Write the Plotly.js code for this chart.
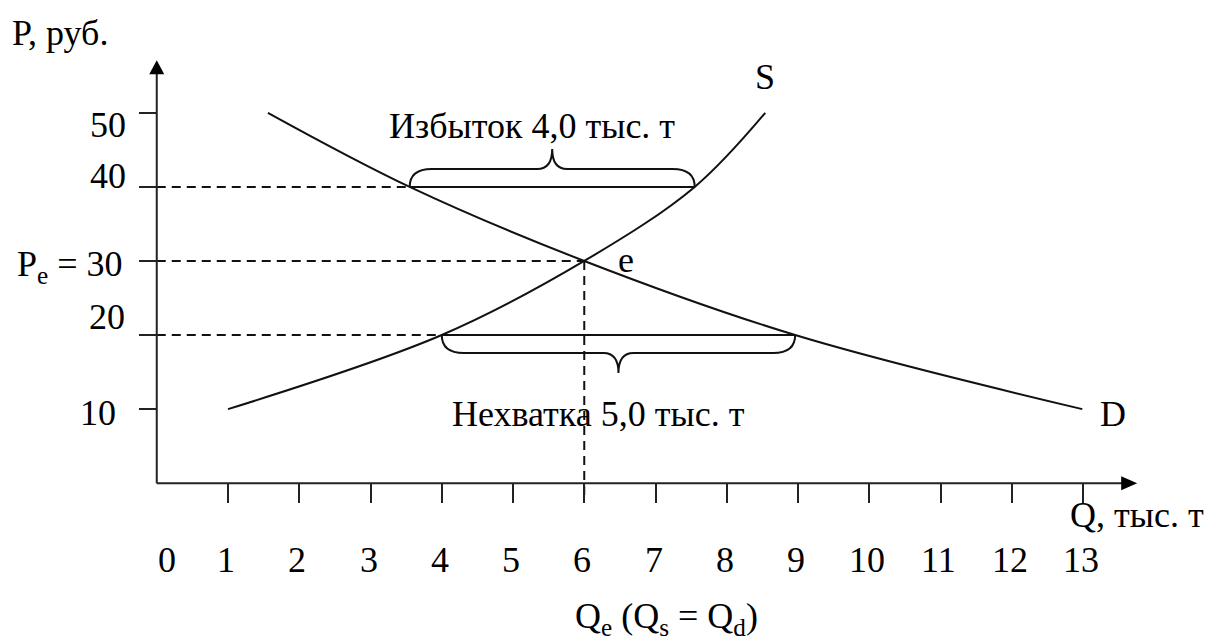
<!DOCTYPE html>
<html>
<head>
<meta charset="utf-8">
<script src="https://cdn.plot.ly/plotly-3.0.1.min.js"></script>
<style>
  html, body { margin: 0; padding: 0; background: #fff; }
  #chart { width: 1209px; height: 644px; }
</style>
</head>
<body>
<div id="chart"></div>
<script>
// values (Q in thousand t, P in rub.)
const supplyQ = [1, 4, 6, 7.55, 8.54];
const supplyP = [10, 20, 30, 40, 50];
const demandQ = [1.56, 3.55, 6, 8.96, 12.99];
const demandP = [50, 40, 30, 20, 10];
const eqQ = 6;
const eqP = 30;
const gapP = [40, 20];          // surplus price, shortage price
const gapStart = [3.55, 4];
const gapEnd = [7.55, 8.96];
const gapText = ['Избыток 4,0 тыс. т', 'Нехватка 5,0 тыс. т'];
const xTickVals = [0, 1, 2, 3, 4, 5, 6, 7, 8, 9, 10, 11, 12, 13];
const xTickText = ['0', '1', '2', '3', '4', '5', '6', '7', '8', '9', '10', '11', '12', '13'];
const yTickVals = [10, 20, 30, 40, 50];
const yTickText = ['10', '20', 'P<sub>e</sub> = 30', '40', '50'];

const W = 1209, H = 644;
const FONT = 'Liberation Serif, Times New Roman, serif';
const INK = '#111';

// axes span the whole page, origin placed where the picture has it
const xRange = [-2.2, 14.768];
const yRange = [-21.71, 65.23];
const pxX = W / (xRange[1] - xRange[0]);
const pxY = H / (yRange[1] - yRange[0]);
const dx = px => px / pxX;
const dy = px => px / pxY;

const xAxisEnd = 13.76;
const yAxisEnd = 57.1;

const traces = [];

function seg(x, y, dash) {
    traces.push({
        x: x, y: y, mode: 'lines', hoverinfo: 'skip',
        line: {color: INK, width: 2, dash: dash || 'solid'}
    });
}

// dashed guides
gapP.forEach((p, i) => seg([0, gapStart[i]], [p, p], '9px,6px'));
seg([0, eqQ], [eqP, eqP], '9px,6px');
seg([eqQ, eqQ], [eqP, -dy(17)], '9px,6px');

// surplus / shortage segments
gapP.forEach((p, i) => seg([gapStart[i], gapEnd[i]], [p, p]));

// supply and demand curves
traces.push({x: supplyQ, y: supplyP, mode: 'lines', hoverinfo: 'skip',
    line: {color: INK, width: 2, shape: 'spline', smoothing: 1}});
traces.push({x: demandQ, y: demandP, mode: 'lines', hoverinfo: 'skip',
    line: {color: INK, width: 2, shape: 'spline', smoothing: 1}});

// curly brace path between xa and xb at price y, dir 1 = up, -1 = down
function brace(xa, xb, y, dir) {
    const h1 = dy(18) * dir, h2 = dy(38) * dir;
    const r = dx(22), rt = dx(15);
    const m = (xa + xb) / 2;
    const f = y + h1;
    return `M${xa},${y} Q${xa},${f} ${xa + r},${f} L${m - rt},${f} Q${m},${f} ${m},${y + h2} ` +
        `Q${m},${f} ${m + rt},${f} L${xb - r},${f} Q${xb},${f} ${xb},${y}`;
}

const shapes = [
    {type: 'line', xref: 'x', yref: 'y', x0: 0, y0: 0, x1: xAxisEnd - dx(12), y1: 0,
        line: {color: '#222', width: 2}},
    {type: 'line', xref: 'x', yref: 'y', x0: 0, y0: 0, x1: 0, y1: yAxisEnd - dy(12),
        line: {color: '#222', width: 2}},
    {type: 'path', xref: 'x', yref: 'y', fillcolor: '#000', line: {width: 0},
        path: `M${xAxisEnd},0 L${xAxisEnd - dx(16)},${dy(7)} L${xAxisEnd - dx(16)},${-dy(7)} Z`},
    {type: 'path', xref: 'x', yref: 'y', fillcolor: '#000', line: {width: 0},
        path: `M0,${yAxisEnd} L${dx(7.5)},${yAxisEnd - dy(14)} L${-dx(7.5)},${yAxisEnd - dy(14)} Z`},
    {type: 'path', xref: 'x', yref: 'y', line: {color: INK, width: 2},
        path: brace(gapStart[0], gapEnd[0], gapP[0], 1)},
    {type: 'path', xref: 'x', yref: 'y', line: {color: INK, width: 2},
        path: brace(gapStart[1], gapEnd[1], gapP[1], -1)}
];

const font = {family: FONT, size: 36, color: '#000'};
const annotations = [];

function label(text, x, y, xs, ys, anchor, ref) {
    annotations.push({
        text: text, x: x, y: y, xref: ref || 'x', yref: ref || 'y',
        xshift: xs, yshift: ys, xanchor: anchor || 'center', yanchor: 'middle',
        showarrow: false, font: font
    });
}

// x tick labels
xTickVals.forEach((v, i) => label(xTickText[i], v, 0, i === 0 ? 10 : -2, -77));
// y tick labels
const yLabShift = [[-39, -4], [-30, 18], [-32, -6], [-29, 11], [-29, -12]];
yTickVals.forEach((v, i) => label(yTickText[i], 0, v, yLabShift[i][0], yLabShift[i][1], 'right'));

// curve names and equilibrium
label('S', supplyQ[supplyQ.length - 1], supplyP[supplyP.length - 1], 0, 36);
label('D', demandQ[demandQ.length - 1], demandP[demandP.length - 1], 31, -5);
label('e', eqQ, eqP, 42, 1);

// gap captions
label(gapText[0], (gapStart[0] + gapEnd[0]) / 2, gapP[0], -20, 61);
label(gapText[1], (gapStart[1] + gapEnd[1]) / 2, gapP[1], -20, -79);

// axis titles
label('P, руб.', 10 / W, 1 - 33 / H, 0, 0, 'left', 'paper');
label('Q, тыс. т', 1137 / W, 1 - 515 / H, 0, 0, 'center', 'paper');
label('Q<sub>e</sub> (Q<sub>s</sub> = Q<sub>d</sub>)', 666 / W, 1 - 618 / H, 0, 0, 'center', 'paper');

const layout = {
    width: W, height: H,
    margin: {l: 0, r: 0, t: 0, b: 0},
    paper_bgcolor: '#fff', plot_bgcolor: '#fff',
    showlegend: false,
    xaxis: {
        range: xRange, anchor: 'free', position: (H - 483.2) / H,
        showgrid: false, zeroline: false, showline: false,
        tickvals: xTickVals.slice(1), ticks: 'outside', ticklen: 19, tickwidth: 2,
        tickcolor: '#222', showticklabels: false, fixedrange: true
    },
    yaxis: {
        range: yRange, anchor: 'free', position: 156.75 / W,
        showgrid: false, zeroline: false, showline: false,
        tickvals: yTickVals, ticks: 'outside', ticklen: 18, tickwidth: 2,
        tickcolor: '#222', showticklabels: false, fixedrange: true
    },
    shapes: shapes,
    annotations: annotations
};

document.addEventListener('DOMContentLoaded', function() {
    Plotly.newPlot('chart', traces, layout, {displayModeBar: false, staticPlot: true});
});
</script>
</body>
</html>
